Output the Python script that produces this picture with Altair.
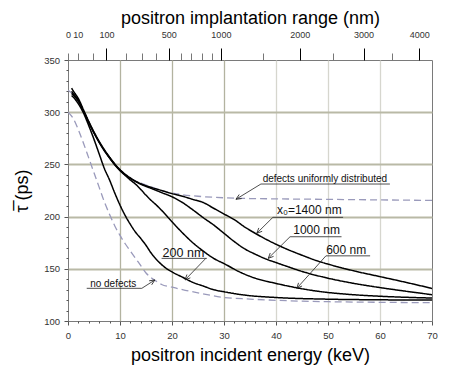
import math
import altair as alt
import pandas as pd

# ---------------- data ----------------
# defects uniformly distributed (dashed)
E_UNIFORM = [0, 1, 2, 3, 4, 5, 6, 7, 8, 9, 10, 11, 12, 13, 14, 16, 18, 20, 22, 25, 30, 35, 40, 50, 60, 70]
TAU_UNIFORM = [321, 317, 310, 300, 290, 280, 271, 263, 256, 249.5, 244, 240, 237, 234, 232, 228.5, 225,
               222.5, 221, 219.5, 218, 217.3, 217, 216.5, 216, 215.5]

# no defects (dashed)
E_NODEF = [0, 1, 2, 3, 4, 5, 6, 7, 8, 9, 10, 11, 12, 13, 14, 15, 16, 17, 18, 20, 22, 25, 30, 35, 40, 50, 60, 70]
TAU_NODEF = [300, 294, 283, 270, 256, 242, 228, 214, 202, 191, 182, 174, 167, 160, 153, 146, 141.5, 138,
             135, 132.5, 130, 127, 122.5, 121, 119.8, 118.5, 117.9, 117.5]

# x0 = 200 nm
E_200 = [0.7, 1, 2, 3, 4, 5, 6, 7, 8, 9, 10, 11, 12, 13, 14, 15, 16, 17, 18, 19, 20, 22, 24, 26, 28, 30,
         34, 40, 50, 60, 70]
TAU_200 = [316, 314.5, 308, 299, 287, 274, 260, 246, 235, 222.5, 211, 201, 192.5, 185, 179, 172.5, 165,
           159, 154, 150, 147, 142, 137, 133.5, 130, 128, 124.8, 122.5, 120.9, 120.3, 120]

# x0 = 600 nm
E_600 = [0.7, 1, 2, 3, 4, 5, 6, 7, 8, 9, 10, 11, 12, 13, 14, 15, 16, 17, 18, 20, 22, 24, 26, 28, 30, 33,
         36, 40, 44, 48, 54, 60, 65, 70]
TAU_600 = [318, 316.5, 310.5, 300.5, 290, 280, 271, 263, 256, 249.5, 244, 239.5, 235, 231, 226, 220.5,
           215.5, 211, 206, 195, 184.5, 175, 167, 160, 155, 147, 141, 136, 131.8, 128.5, 125.5, 123.7,
           122.7, 122]

# x0 = 1000 nm
E_1000 = [0.7, 1, 2, 3, 4, 5, 6, 7, 8, 9, 10, 11, 12, 13, 14, 16, 18, 20, 22, 24, 26, 28, 30, 32, 34, 36,
          38, 40, 42, 45, 50, 55, 60, 65, 70]
TAU_1000 = [320, 318, 311.5, 301, 290.5, 280.5, 271.5, 263.5, 256.5, 250, 244.5, 240, 236.5, 233.5, 231,
            227, 223, 219, 213.5, 206.5, 199, 192, 184, 176, 169, 164, 159.5, 156, 152.5, 147.5, 141,
            136, 132, 128.5, 125.2]

# x0 = 1400 nm
E_1400 = [0.7, 1, 2, 3, 4, 5, 6, 7, 8, 9, 10, 11, 12, 13, 14, 16, 18, 20, 22, 24, 26, 28, 30, 32, 34, 36,
          38, 40, 42, 45, 48, 50, 55, 60, 65, 70]
TAU_1400 = [323, 320.5, 313, 302, 291, 281, 272, 264, 257, 250.5, 245, 240.5, 237, 234, 231.5, 228, 225,
            222, 219.5, 216.5, 213.5, 208, 202.5, 197, 190, 184, 178.5, 173.5, 169, 163, 157.5, 154.5,
            148, 142.5, 137, 131.2]

# top axis: positron implantation range (nm)
RANGE_TICKS_NM = [0, 10, 50, 100, 200, 300, 400, 500, 600, 700, 800, 900, 1000, 1500, 2000, 2500, 3000,
                  3500, 4000]
RANGE_LABELS_NM = [0, 10, 100, 500, 1000, 2000, 3000, 4000]
RANGE_MAJOR_NM = [100, 500, 1000, 2000, 3000, 4000]
E_AT_1000NM = 29.4      # keV under the 1000 nm tick
RANGE_EXPONENT = 0.6    # E grows as range**0.6

# annotations
LABEL_TEXT = ["defects uniformly distributed", "x\u2080=1400 nm", "1000 nm", "600 nm", "200 nm", "no defects"]
LABEL_E = [49.4, 46.4, 47.8, 53.5, 22.2, 8.7]
LABEL_TAU = [233.2, 202.7, 183.0, 164.5, 161.2, 133.0]
LABEL_SIZE = [10, 12, 12, 12, 12.5, 10]
UNDER_E1 = [37.1, 39.4, 42.7, 49.6, 18.0, 3.6]
UNDER_E2 = [61.9, 52.9, 52.6, 58.1, 26.7, 14.2]
UNDER_TAU = [231.2, 199.3, 180.7, 162.4, 160.0, 131.3]
LEAD_E = [37.1, 39.4, 42.7, 49.6, 26.5, 14.2]
LEAD_TAU = [231.2, 199.3, 180.7, 162.4, 160.0, 131.3]
TIP_E = [32.3, 36.3, 38.5, 44.0, 22.5, 16.7]
TIP_TAU = [216.6, 184.0, 160.0, 131.3, 139.3, 139.3]

# ---------------- chart ----------------
W, H = 364, 261
FONT = "Liberation Sans"
X_MAX, Y_MIN, Y_MAX = 70, 100, 350

frames = []
for name, style, es, ts in [
    ("uniform", "dashed", E_UNIFORM, TAU_UNIFORM),
    ("nodef", "dashed", E_NODEF, TAU_NODEF),
    ("200", "solid", E_200, TAU_200),
    ("600", "solid", E_600, TAU_600),
    ("1000", "solid", E_1000, TAU_1000),
    ("1400", "solid", E_1400, TAU_1400),
]:
    frames.append(pd.DataFrame({"E": es, "tau": ts, "curve": name, "style": style}))
curves_df = pd.concat(frames, ignore_index=True)

angles = []
for e0, t0, e1, t1 in zip(LEAD_E, LEAD_TAU, TIP_E, TIP_TAU):
    dx = (e1 - e0) * W / X_MAX
    dy = -(t1 - t0) * H / (Y_MAX - Y_MIN)
    angles.append(math.degrees(math.atan2(dx, -dy)) % 360)

ann_df = pd.DataFrame({
    "label": LABEL_TEXT, "tx": LABEL_E, "ty": LABEL_TAU, "fs": LABEL_SIZE,
    "u1": UNDER_E1, "u2": UNDER_E2, "uy": UNDER_TAU,
    "l1": LEAD_E, "ly": LEAD_TAU, "te": TIP_E, "tt": TIP_TAU, "ang": angles,
})

x_scale = alt.Scale(domain=[0, X_MAX], nice=False, zero=False)
y_scale = alt.Scale(domain=[Y_MIN, Y_MAX], nice=False, zero=False)

x_axis = alt.Axis(
    orient="bottom",
    values=list(range(0, 71, 2)),
    format="d",
    labelExpr="datum.value % 10 === 0 ? datum.label : ''",
    tickSize={"condition": {"test": "datum.value % 10 === 0", "value": 4}, "value": 2},
    tickColor="#555555", tickWidth=1,
    labelFont=FONT, labelFontSize=9.5, labelColor="#333333", labelPadding=5,
    labelFlush=False, labelOverlap=False,
    grid=True,
    gridColor={"condition": {"test": "datum.value <= 30", "value": "#b3b3a0"}, "value": "#d6d6ce"},
    gridOpacity={"condition": {"test": "datum.value % 10 === 0 && datum.value > 0 && datum.value < 70",
                               "value": 1}, "value": 0},
    gridWidth=1.3,
    domain=False,
    title="positron incident energy (keV)",
    titleFont=FONT, titleFontSize=18, titleFontWeight="normal", titleColor="#000000",
    titleX=W / 2, titleY=34, titleBaseline="middle", titleAlign="center",
)

y_axis = alt.Axis(
    orient="left",
    values=list(range(100, 351, 10)),
    format="d",
    labelExpr="datum.value % 50 === 0 ? datum.label : ''",
    tickSize={"condition": {"test": "datum.value % 50 === 0", "value": 4}, "value": 2},
    tickColor="#555555", tickWidth=1,
    labelFont=FONT, labelFontSize=9.5, labelColor="#333333", labelPadding=4.5,
    labelOverlap=False,
    grid=True,
    gridColor="#b9b9a6",
    gridOpacity={"condition": {"test": "datum.value % 50 === 0 && datum.value > 100 && datum.value < 350",
                               "value": 1}, "value": 0},
    gridWidth=1.8,
    domain=False,
    title="\u03c4\u0305 (ps)",
    titleFont=FONT, titleFontSize=18, titleFontWeight="normal", titleColor="#000000",
    titleX=-46, titleY=H / 2, titleAngle=270, titleBaseline="middle", titleAlign="center",
)


def X(field):
    return alt.X(field, scale=x_scale, axis=x_axis)


def Y(field):
    return alt.Y(field, scale=y_scale, axis=y_axis)


curves = alt.Chart(curves_df).mark_line(interpolate="monotone", clip=True).encode(
    x=X("E:Q"),
    y=Y("tau:Q"),
    detail="curve:N",
    color=alt.Color("style:N", scale=alt.Scale(domain=["solid", "dashed"], range=["#000000", "#9a9abb"]),
                    legend=None),
    strokeDash=alt.StrokeDash("style:N", scale=alt.Scale(domain=["solid", "dashed"], range=[[1, 0], [7, 4]]),
                              legend=None),
    strokeWidth=alt.StrokeWidth("style:N", scale=alt.Scale(domain=["solid", "dashed"], range=[1.5, 1.3]),
                                legend=None),
)

underline = alt.Chart(ann_df).mark_rule(color="#222222", strokeWidth=0.8).encode(
    x=X("u1:Q"), x2="u2:Q", y=Y("uy:Q"),
)

leader = alt.Chart(ann_df).mark_rule(color="#222222", strokeWidth=0.8).encode(
    x=X("l1:Q"), y=Y("ly:Q"), x2="te:Q", y2="tt:Q",
)

arrows = alt.Chart(ann_df).mark_point(
    shape="M0,0L-0.45,1M0,0L0.45,1", size=110, filled=False, color="#222222",
    strokeWidth=0.8, opacity=1,
).encode(
    x=X("te:Q"), y=Y("tt:Q"),
    angle=alt.Angle("ang:Q", scale=None),
)

texts = alt.Chart(ann_df).mark_text(font=FONT, align="center", baseline="alphabetic", color="#111111").encode(
    x=X("tx:Q"), y=Y("ty:Q"),
    text="label:N",
    size=alt.Size("fs:Q", scale=None),
)

labels_js = "[" + ",".join(str(v) for v in RANGE_LABELS_NM) + "]"
major_js = "[" + ",".join(str(v) for v in RANGE_MAJOR_NM) + "]"
is_major = f"indexof({major_js}, datum.value) >= 0"
r_max = 1000 * (X_MAX / E_AT_1000NM) ** (1 / RANGE_EXPONENT)

top_axis = alt.Axis(
    orient="top",
    values=RANGE_TICKS_NM,
    format="d",
    labelExpr=f"indexof({labels_js}, datum.value) >= 0 ? datum.label : ''",
    tickSize={"condition": {"test": is_major, "value": 12}, "value": 7},
    tickColor={"condition": {"test": is_major, "value": "#000000"}, "value": "#777777"},
    tickWidth=1,
    labelPadding={"condition": {"test": is_major, "value": 9}, "value": 14},
    labelFont=FONT, labelFontSize=9, labelColor="#333333",
    labelFlush=False, labelOverlap=False,
    grid=False, domain=False,
    title="positron implantation range (nm)",
    titleFont=FONT, titleFontSize=18, titleFontWeight="normal", titleColor="#000000",
    titleX=W / 2, titleY=-42, titleBaseline="middle", titleAlign="center",
)

top = alt.Chart(pd.DataFrame({"R": RANGE_TICKS_NM})).mark_point(opacity=0).encode(
    x=alt.X("R:Q", scale=alt.Scale(type="pow", exponent=RANGE_EXPONENT, domain=[0, r_max],
                                   nice=False, zero=False), axis=top_axis),
)

main = alt.layer(curves, underline, leader, arrows, texts)

chart = alt.layer(main, top).resolve_scale(x="independent").properties(
    width=W, height=H,
    autosize=alt.AutoSizeParams(type="none"),
    padding={"left": 60, "top": 52, "right": 12, "bottom": 44},
).configure_view(stroke="#7a7a7a", strokeWidth=1)

chart.save("out.html", embed_options={"renderer": "svg", "actions": False})
